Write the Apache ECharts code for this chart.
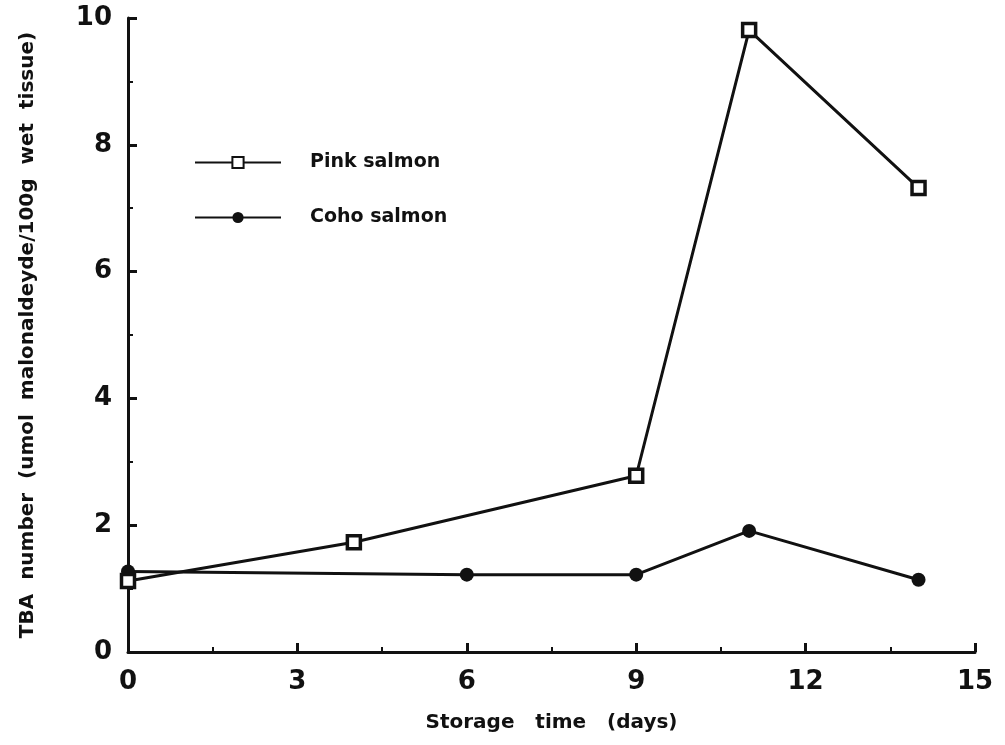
<!DOCTYPE html>
<html>
<head>
<meta charset="utf-8">
<script src="https://cdn.jsdelivr.net/npm/echarts@6/dist/echarts.min.js"></script>
<style>html,body{margin:0;padding:0;background:#fff;}#c{width:1005px;height:745px;}</style>
</head>
<body>
<div id="c"></div>
<script>
const pinkDays = [0, 4, 9, 11, 14];
const pinkTBA = [1.12, 1.73, 2.78, 9.81, 7.32];
const cohoDays = [0, 6, 9, 11, 14];
const cohoTBA = [1.27, 1.22, 1.22, 1.91, 1.14];
const seriesNames = ['Pink salmon', 'Coho salmon'];
const xTitle = 'Storage   time   (days)';
const yTitle = 'TBA  number  (umol  malonaldeyde/100g  wet  tissue)';

const FONT = 'DejaVu Sans';
const chart = echarts.init(document.getElementById('c'), null, {renderer: 'canvas'});
const axisCommon = {
  axisLine: {show: true, lineStyle: {color: '#111', width: 3}},
  axisTick: {show: true, inside: true, length: 9, lineStyle: {color: '#111', width: 3}},
  minorTick: {show: true, splitNumber: 2, length: 5, lineStyle: {color: '#111', width: 2}},
  splitLine: {show: false},
  axisLabel: {color: '#111', fontFamily: FONT, fontWeight: 'bold', fontSize: 26},
  nameTextStyle: {color: '#111', fontFamily: FONT, fontWeight: 'bold', fontSize: 20}
};
chart.setOption({
  animation: false,
  backgroundColor: '#fff',
  grid: {left: 128, right: 30, top: 18, bottom: 93, containLabel: false},
  legend: {
    orient: 'vertical', left: 189, top: 148, itemWidth: 86, itemHeight: 14, itemGap: 36,
    textStyle: {color: '#111', fontFamily: FONT, fontWeight: 'bold', fontSize: 19, padding: [0, 0, 0, 24]},
    data: seriesNames
  },
  xAxis: Object.assign({}, axisCommon, {
    type: 'value', min: 0, max: 15, interval: 3,
    name: xTitle, nameLocation: 'middle', nameGap: 61,
    axisLabel: Object.assign({}, axisCommon.axisLabel, {margin: 17})
  }),
  yAxis: Object.assign({}, axisCommon, {
    type: 'value', min: 0, max: 10, interval: 2,
    name: yTitle, nameLocation: 'middle', nameGap: 90,
    axisLabel: Object.assign({}, axisCommon.axisLabel, {margin: 16})
  }),
  series: [
    {
      name: seriesNames[0], type: 'line',
      data: pinkDays.map((d, i) => [d, pinkTBA[i]]),
      symbol: 'rect', symbolSize: 13,
      lineStyle: {color: '#111', width: 3},
      itemStyle: {color: '#fff', borderColor: '#111', borderWidth: 3.5},
      z: 3
    },
    {
      name: seriesNames[1], type: 'line',
      data: cohoDays.map((d, i) => [d, cohoTBA[i]]),
      symbol: 'circle', symbolSize: 14,
      lineStyle: {color: '#111', width: 3},
      itemStyle: {color: '#111', borderColor: '#111', borderWidth: 0},
      z: 2
    }
  ]
});
</script>
</body>
</html>
